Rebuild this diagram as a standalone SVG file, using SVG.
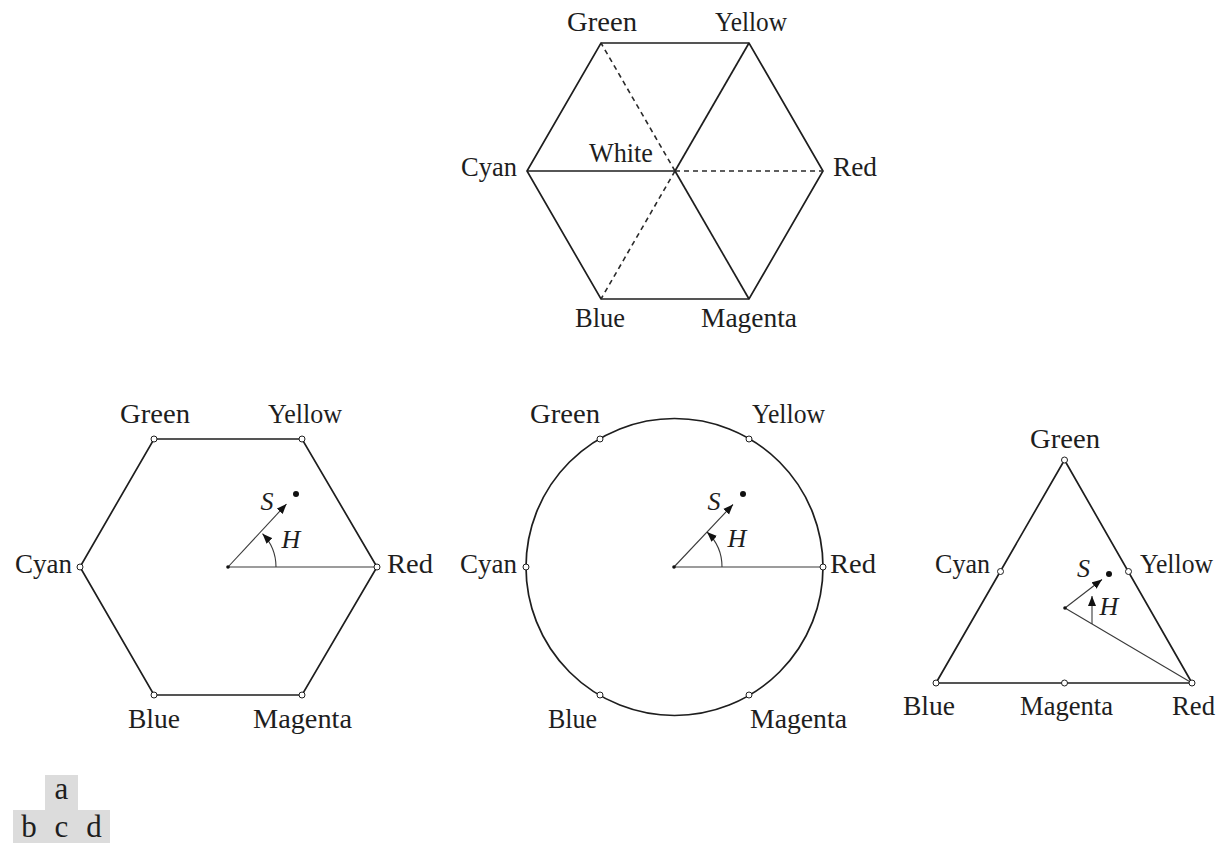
<svg xmlns="http://www.w3.org/2000/svg" width="1220" height="843" viewBox="0 0 1220 843">
<style>
.lbl{font-family:"Liberation Serif","Times New Roman",serif;font-size:27px;fill:#1e1e1e;text-anchor:middle}
.it{font-family:"Liberation Serif","Times New Roman",serif;font-size:26px;font-style:italic;fill:#1e1e1e;text-anchor:middle}
.edge{fill:none;stroke:#1e1e1e;stroke-width:1.7}
.dash{fill:none;stroke:#2a2a2a;stroke-width:1.6;stroke-dasharray:5 4}
.thin{fill:none;stroke:#3a3a3a;stroke-width:1.1}
.vtx{fill:#fff;stroke:#1e1e1e;stroke-width:1}
.dot{fill:#111}
.box{fill:#dcdcdc}
.tag{font-family:"Liberation Serif","Times New Roman",serif;font-size:31px;fill:#1e1e1e;text-anchor:middle}
</style>
<defs>
<marker id="arr" markerUnits="userSpaceOnUse" markerWidth="11" markerHeight="9" refX="10" refY="4.5" orient="auto">
<path d="M0,0.5 L10,4.5 L0,8.5 z" fill="#111"/>
</marker>
</defs>
<rect width="1220" height="843" fill="#fff"/>

<!-- Panel a: hexagon with white centre -->
<g id="panel-a">
<g id="a-connectors">
<polygon class="edge" points="601,43 749,43 823,171 749,299 601,299 527,171"/>
<line class="edge" x1="675" y1="171" x2="527" y2="171"/>
<line class="edge" x1="675" y1="171" x2="749" y2="43"/>
<line class="edge" x1="675" y1="171" x2="749" y2="299"/>
<line class="dash" x1="675" y1="171" x2="601" y2="43"/>
<line class="dash" x1="675" y1="171" x2="601" y2="299"/>
<line class="dash" x1="675" y1="171" x2="823" y2="171"/>
</g>
<g id="a-green"><text class="lbl" x="602" y="31" textLength="70" lengthAdjust="spacingAndGlyphs">Green</text></g>
<g id="a-yellow"><text class="lbl" x="751" y="31" textLength="72" lengthAdjust="spacingAndGlyphs">Yellow</text></g>
<g id="a-cyan"><text class="lbl" x="489" y="176" textLength="56" lengthAdjust="spacingAndGlyphs">Cyan</text></g>
<g id="a-white"><text class="lbl" x="621" y="162" textLength="64" lengthAdjust="spacingAndGlyphs">White</text></g>
<g id="a-red"><text class="lbl" x="855" y="176" textLength="44" lengthAdjust="spacingAndGlyphs">Red</text></g>
<g id="a-blue"><text class="lbl" x="600" y="327" textLength="50" lengthAdjust="spacingAndGlyphs">Blue</text></g>
<g id="a-magenta"><text class="lbl" x="749" y="327" textLength="96" lengthAdjust="spacingAndGlyphs">Magenta</text></g>
</g>

<!-- Panel b: hexagon -->
<g id="panel-b">
<g id="b-connectors">
<polygon class="edge" points="154,439 302,439 377,567 302,695 154,695 80,567"/>
<line class="thin" x1="228" y1="567" x2="377" y2="567"/>
<line class="thin" x1="228" y1="567" x2="286.5" y2="504" marker-end="url(#arr)"/>
<path class="thin" d="M276,567 A48,48 0 0 0 262.5,533.7" marker-end="url(#arr)"/>
</g>
<circle class="dot" cx="228" cy="567" r="1.8"/>
<circle class="dot" cx="296" cy="494" r="3"/>
<g id="b-green"><circle class="vtx" cx="154" cy="439" r="3"/><text class="lbl" x="155" y="423" textLength="70" lengthAdjust="spacingAndGlyphs">Green</text></g>
<g id="b-yellow"><circle class="vtx" cx="302" cy="439" r="3"/><text class="lbl" x="305" y="423" textLength="74" lengthAdjust="spacingAndGlyphs">Yellow</text></g>
<g id="b-cyan"><circle class="vtx" cx="80" cy="567" r="3"/><text class="lbl" x="43.5" y="573" textLength="57" lengthAdjust="spacingAndGlyphs">Cyan</text></g>
<g id="b-red"><circle class="vtx" cx="377" cy="567" r="3"/><text class="lbl" x="410" y="573" textLength="46" lengthAdjust="spacingAndGlyphs">Red</text></g>
<g id="b-blue"><circle class="vtx" cx="154" cy="695" r="3"/><text class="lbl" x="154" y="728" textLength="52" lengthAdjust="spacingAndGlyphs">Blue</text></g>
<g id="b-magenta"><circle class="vtx" cx="302" cy="695" r="3"/><text class="lbl" x="302.5" y="728" textLength="99" lengthAdjust="spacingAndGlyphs">Magenta</text></g>
<g id="b-S"><text class="it" x="267" y="510">S</text></g>
<g id="b-H"><text class="it" x="291" y="548">H</text></g>
</g>

<!-- Panel c: circle -->
<g id="panel-c">
<g id="c-connectors">
<circle class="edge" cx="674.5" cy="567" r="148.5"/>
<line class="thin" x1="674" y1="567" x2="823" y2="567"/>
<line class="thin" x1="674" y1="567" x2="733" y2="504.5" marker-end="url(#arr)"/>
<path class="thin" d="M722,567 A48,48 0 0 0 707,532" marker-end="url(#arr)"/>
</g>
<circle class="dot" cx="674" cy="567" r="1.8"/>
<circle class="dot" cx="743" cy="494" r="3"/>
<g id="c-green"><circle class="vtx" cx="600" cy="439" r="3"/><text class="lbl" x="565" y="423" textLength="70" lengthAdjust="spacingAndGlyphs">Green</text></g>
<g id="c-yellow"><circle class="vtx" cx="749" cy="439" r="3"/><text class="lbl" x="788.5" y="423" textLength="73" lengthAdjust="spacingAndGlyphs">Yellow</text></g>
<g id="c-cyan"><circle class="vtx" cx="526" cy="567" r="3"/><text class="lbl" x="488.5" y="573" textLength="57" lengthAdjust="spacingAndGlyphs">Cyan</text></g>
<g id="c-red"><circle class="vtx" cx="823" cy="567" r="3"/><text class="lbl" x="853" y="573" textLength="46" lengthAdjust="spacingAndGlyphs">Red</text></g>
<g id="c-blue"><circle class="vtx" cx="600" cy="695" r="3"/><text class="lbl" x="572.5" y="728" textLength="49" lengthAdjust="spacingAndGlyphs">Blue</text></g>
<g id="c-magenta"><circle class="vtx" cx="749" cy="695" r="3"/><text class="lbl" x="798.5" y="728" textLength="97" lengthAdjust="spacingAndGlyphs">Magenta</text></g>
<g id="c-S"><text class="it" x="714" y="510">S</text></g>
<g id="c-H"><text class="it" x="737" y="547">H</text></g>
</g>

<!-- Panel d: triangle -->
<g id="panel-d">
<g id="d-connectors">
<polygon class="edge" points="1064.5,460 1192,683 936,683"/>
<line class="thin" x1="1065" y1="608" x2="1192" y2="683"/>
<line class="thin" x1="1065" y1="608" x2="1102" y2="579.5" marker-end="url(#arr)"/>
<line class="thin" x1="1092" y1="624" x2="1092" y2="596" marker-end="url(#arr)"/>
</g>
<circle class="dot" cx="1065" cy="608" r="1.8"/>
<circle class="dot" cx="1109" cy="574" r="3"/>
<g id="d-green"><circle class="vtx" cx="1064.5" cy="460" r="3"/><text class="lbl" x="1065" y="448" textLength="70" lengthAdjust="spacingAndGlyphs">Green</text></g>
<g id="d-cyan"><circle class="vtx" cx="1000.5" cy="571.5" r="3"/><text class="lbl" x="962.5" y="573" textLength="55" lengthAdjust="spacingAndGlyphs">Cyan</text></g>
<g id="d-yellow"><circle class="vtx" cx="1128.5" cy="571.5" r="3"/><text class="lbl" x="1176.5" y="573" textLength="73" lengthAdjust="spacingAndGlyphs">Yellow</text></g>
<g id="d-blue"><circle class="vtx" cx="936" cy="683" r="3"/><text class="lbl" x="929" y="715" textLength="52" lengthAdjust="spacingAndGlyphs">Blue</text></g>
<g id="d-magenta"><circle class="vtx" cx="1064.5" cy="683" r="3"/><text class="lbl" x="1066.5" y="715" textLength="93" lengthAdjust="spacingAndGlyphs">Magenta</text></g>
<g id="d-red"><circle class="vtx" cx="1192" cy="683" r="3"/><text class="lbl" x="1193.5" y="715" textLength="43" lengthAdjust="spacingAndGlyphs">Red</text></g>
<g id="d-S"><text class="it" x="1083.5" y="577">S</text></g>
<g id="d-H"><text class="it" x="1109" y="615">H</text></g>
</g>

<!-- Panel key -->
<g id="key">
<rect class="box" x="45" y="775" width="33" height="35"/>
<rect class="box" x="13" y="810" width="32" height="33"/>
<rect class="box" x="45" y="810" width="33" height="33"/>
<rect class="box" x="78" y="810" width="32" height="33"/>
<text class="tag" x="61.5" y="799">a</text>
<text class="tag" x="29" y="837">b</text>
<text class="tag" x="61.5" y="837">c</text>
<text class="tag" x="94" y="837">d</text>
</g>
</svg>
